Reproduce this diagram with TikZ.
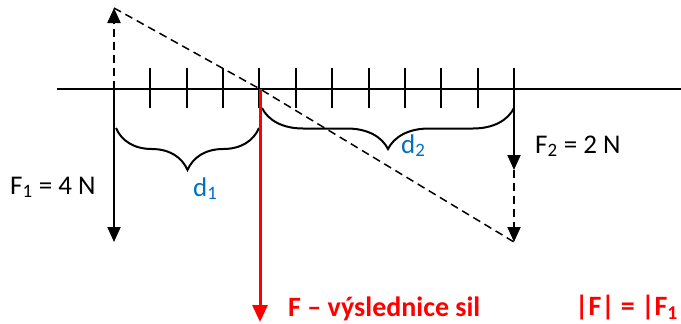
\documentclass[tikz,border=0pt]{standalone}
\usepackage{fontspec}
\setmainfont{Carlito}
\usetikzlibrary{arrows.meta,decorations.pathreplacing}
\definecolor{myblue}{RGB}{0,112,192}
\begin{document}
\begin{tikzpicture}[x=1pt,y=-1pt,
  lbl/.style={inner sep=0pt, anchor=base west, font=\fontsize{27}{31}\selectfont},
  redlbl/.style={inner sep=0pt, anchor=base west, text=red, font=\fontsize{28}{32}\selectfont\bfseries},
  axisline/.style={line width=2pt},
  tickline/.style={line width=2pt},
  force/.style={line width=2pt, -{Triangle[length=15pt,width=13pt]}},
  dforce/.style={line width=2pt, dash pattern=on 8pt off 5pt, -{Triangle[length=15pt,width=13pt]}},
  result/.style={line width=3pt, red, -{Triangle[length=17pt,width=15pt]}},
  guide/.style={line width=1.5pt, dash pattern=on 8pt off 5pt},
  bracedec/.style={line width=2pt, decorate, decoration={brace, amplitude=#1}},
]
\useasboundingbox (0,0) rectangle (681,324);
% key points
\coordinate (L) at (57,89);
\coordinate (R) at (681,89);
\coordinate (A) at (114,89);
\coordinate (P) at (260,89);
\coordinate (B) at (514,89);
\coordinate (F1up) at (114,8);
\coordinate (F1dn) at (114,242);
\coordinate (F2top) at (514,68);
\coordinate (F2tip) at (514,170);
\coordinate (F2dtip) at (514,242);
\coordinate (Ftip) at (260,322);
% lever
\draw[axisline] (L) -- (R);
\foreach \i in {1,...,11}{
  \draw[tickline] ({114+\i*400/11},68) -- ({114+\i*400/11},108);
}
% dashed construction line
\draw[guide] (F1up) -- (P) -- (F2dtip);
% forces
\draw[dforce] (A) -- (F1up);
\draw[force] (A) -- (F1dn);
\draw[force] (F2top) -- (F2tip);
\draw[dforce] (F2tip) -- (F2dtip);
% braces
\draw[bracedec=42] (259,128) -- (116,128);
\draw[bracedec=41] (514,108) -- (262,108);
% resultant
\draw[result] (P) -- (Ftip);
% labels
\node[lbl] (f1) at (10,194) {F\textsubscript{1} = 4 N};
\node[lbl] (f2) at (535,153) {F\textsubscript{2} = 2 N};
\node[lbl, text=myblue] (d1) at (193,196) {d\textsubscript{1}};
\node[lbl, text=myblue] (d2) at (401,153) {d\textsubscript{2}};
\node[redlbl] (fr) at (288,316) {F – výslednice sil};
\node[redlbl] (fa) at (575,315) {|F| = |F\textsubscript{1}};
\end{tikzpicture}
\end{document}
